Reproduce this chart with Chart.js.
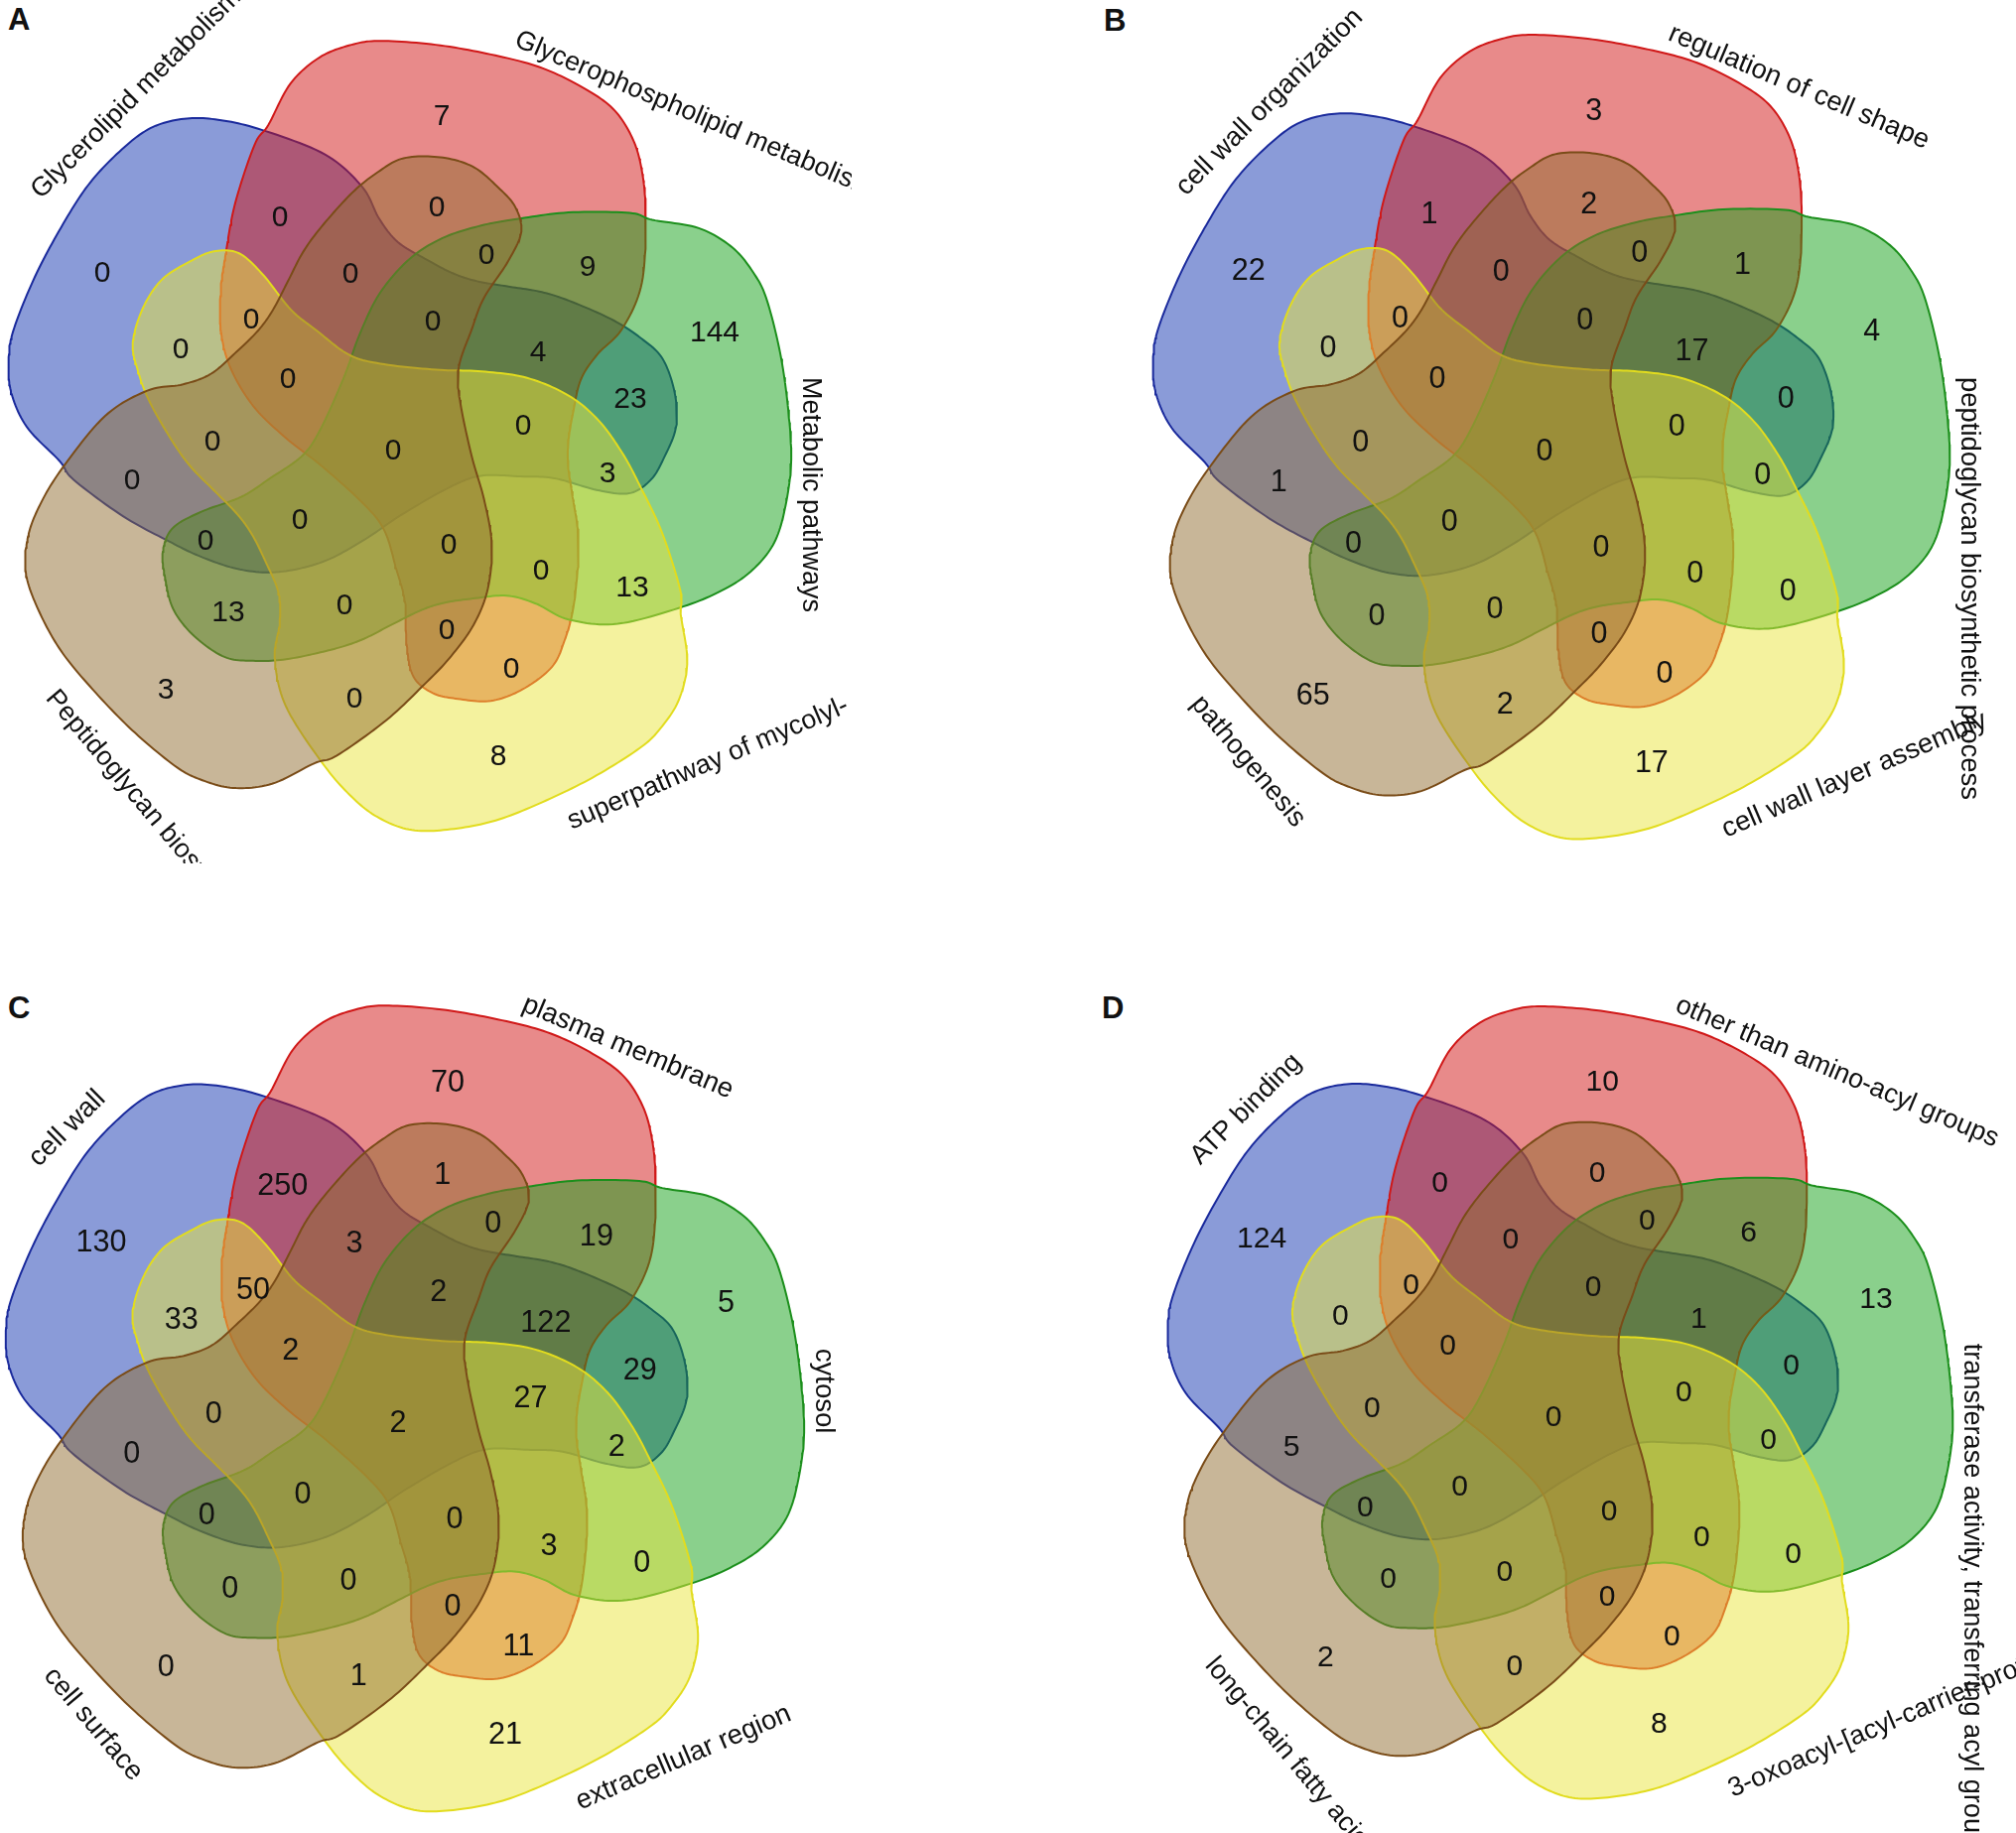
<!DOCTYPE html>
<html>
<head>
<meta charset="utf-8">
<script src="https://cdn.jsdelivr.net/npm/chart.js@4.4.1/dist/chart.umd.min.js"></script>
<style>
  html, body { margin: 0; padding: 0; background: #fff; }
  body { width: 2031px; height: 1847px; position: relative; overflow: hidden; font-family: "Liberation Sans", Arial, sans-serif; }
  canvas { position: absolute; }
  .tag { position: absolute; font-weight: bold; font-size: 31px; line-height: 1; color: #111; }
</style>
</head>
<body>
<div class="tag" style="left:8px;top:4px">A</div>
<div class="tag" style="left:1112px;top:5px">B</div>
<div class="tag" style="left:8px;top:1000px">C</div>
<div class="tag" style="left:1110px;top:1000px">D</div>
<canvas id="vennA"></canvas>
<canvas id="vennB"></canvas>
<canvas id="vennC"></canvas>
<canvas id="vennD"></canvas>
<script>
//data - regions: a = 1st set (blue) ... e = 5th set (brown)
const regions = ["a","b","c","d","e",
  "ab","bc","cd","de","ae",
  "be","ac","bd","ce","ad",
  "abe","abc","bcd","cde","ade",
  "bce","acd","bde","ace","abd",
  "abce","abcd","bcde","acde","abde",
  "abcde"];

const namesA = ["Glycerolipid metabolism", "Glycerophospholipid metabolism", "Metabolic pathways", "superpathway of mycolyl-", "Peptidoglycan biosynthesis"];
const countsA = [0, 7, 144, 8, 3,
  0, 9, 13, 0, 0,
  0, 23, 0, 13, 0,
  0, 4, 0, 0, 0,
  0, 3, 0, 0, 0,
  0, 0, 0, 0, 0,
  0];

const namesB = ["cell wall organization", "regulation of cell shape", "peptidoglycan biosynthetic process", "cell wall layer assembly", "pathogenesis"];
const countsB = [22, 3, 4, 17, 65,
  1, 1, 0, 2, 1,
  2, 0, 0, 0, 0,
  0, 17, 0, 0, 0,
  0, 0, 0, 0, 0,
  0, 0, 0, 0, 0,
  0];

const namesC = ["cell wall", "plasma membrane", "cytosol", "extracellular region", "cell surface"];
const countsC = [130, 70, 5, 21, 0,
  250, 19, 0, 1, 0,
  1, 29, 11, 0, 33,
  3, 122, 3, 0, 0,
  0, 2, 0, 0, 50,
  2, 27, 0, 0, 2,
  2];

const namesD = ["ATP binding", "other than amino-acyl groups", "transferase activity, transferring acyl groups", "3-oxoacyl-[acyl-carrier-protein] synthase activity", "long-chain fatty acid-CoA ligase activity"];
const countsD = [124, 10, 13, 8, 2,
  0, 6, 0, 0, 5,
  0, 0, 0, 0, 0,
  0, 1, 0, 0, 0,
  0, 0, 0, 0, 0,
  0, 0, 0, 0, 0,
  0];

//layout - one set outline (the top one), px from the diagram centre, y up
const outlineTop = [
  [-180,110],[-180,152],[-175,189],[-165,242],[-145,302],[-131,322],[-108,365],[-78,392],
  [-45,405],[-15,409],[42,405],[99,395],[149,382],[192,362],[225,339],[245,309],
  [255,275],[259,229],[255,159],[235,112],[209,85],[192,59],[184,25],[179,-5],
  [179,-31],[184,-65],[189,-98],[189,-131],[184,-178],[175,-211],[162,-238],[132,-261],
  [99,-273],[65,-271],[39,-265],[19,-248],[12,-215],[10,-170],[1,-136],[-11,-97],
  [-32,-70],[-75,-31],[-112,-2],[-146,31],[-170,71]
];
const setTurn = [72, 0, -72, -144, 144];
const fills = ["rgba(21,55,177,0.5)", "rgba(209,21,21,0.5)", "rgba(21,161,25,0.5)", "rgba(233,229,61,0.5)", "rgba(145,109,49,0.5)"];
const borders = ["#1a2a9c", "#d01818", "#1c8f1c", "#e2dc1e", "#7a4c18"];

// where each region's count sits
const labelAt = {
  a:[-295,167], b:[47,325], c:[322,107], d:[104,-320], e:[-231,-253],
  ab:[-116,223], bc:[194,173], cd:[239,-150], de:[-41,-262], ae:[-265,-42],
  be:[42,233], ac:[237,40], bd:[117,-232], ce:[-168,-175], ad:[-216,90],
  abe:[-45,166], abc:[144,87], bcd:[147,-133], cde:[-51,-168], ade:[-184,-3],
  bce:[92,185], acd:[214,-35], bde:[52,-193], ace:[-191,-103], abd:[-145,120],
  abce:[38,118], abcd:[129,13], bcde:[54,-107], acde:[-96,-82], abde:[-108,60],
  abcde:[-2,-12]
};
// set name anchor x, y, rotation (deg)
const nameAt = [[-362,244,-45], [122,401,23], [418,60,90], [175,-389,-23], [-347,-259,50]];

const panels = [
  {id:"A", names:namesA, counts:countsA, cx:398, cy:440, k:1, box:[0,0,858,870]},
  {id:"B", names:namesB, counts:countsB, cx:1558, cy:441, k:1.018, box:[1100,0,931,935]},
  {id:"C", names:namesC, counts:countsC, cx:403, cy:1420, k:1.02, box:[0,940,1000,907]},
  {id:"D", names:namesD, counts:countsD, cx:1567, cy:1414, k:1.003, box:[1100,940,931,907]}
];

function smoothRing(pts, steps) {
  let out = [];
  let n = pts.length;
  for (let i = 0; i < n; i++) {
    let p0 = pts[(i - 1 + n) % n], p1 = pts[i], p2 = pts[(i + 1) % n], p3 = pts[(i + 2) % n];
    for (let s = 0; s < steps; s++) {
      let t = s / steps, t2 = t * t, t3 = t2 * t;
      let f = (a, b, c, d) => 0.5 * (2 * b + (c - a) * t + (2 * a - 5 * b + 4 * c - d) * t2 + (3 * b - a - 3 * c + d) * t3);
      out.push([f(p0[0], p1[0], p2[0], p3[0]), f(p0[1], p1[1], p2[1], p3[1])]);
    }
  }
  out.push(out[0]);
  return out;
}

function turn(pts, deg) {
  let r = deg * Math.PI / 180, c = Math.cos(r), s = Math.sin(r);
  return pts.map(p => ({x: p[0] * c - p[1] * s, y: p[0] * s + p[1] * c}));
}

const shape = smoothRing(outlineTop.map(p => [p[0] * 0.975, p[1] * 0.975]), 12);

//counts and set names, placed through the scales
const vennText = {
  id: "vennText",
  afterDatasetsDraw(chart, args, opts) {
    let ctx = chart.ctx, x = chart.scales.x, y = chart.scales.y;
    let big = 30 * opts.k, small = 27 * opts.k;
    ctx.save();
    ctx.fillStyle = "#111";
    ctx.font = big + "px 'Liberation Sans', Arial, sans-serif";
    ctx.textAlign = "center";
    ctx.textBaseline = "alphabetic";
    regions.forEach((r, i) => {
      let p = labelAt[r];
      ctx.fillText(String(opts.counts[i]), x.getPixelForValue(p[0]), y.getPixelForValue(p[1]) + 0.36 * big);
    });
    ctx.font = small + "px 'Liberation Sans', Arial, sans-serif";
    ctx.textAlign = "left";
    ctx.textBaseline = "middle";
    opts.names.forEach((name, i) => {
      let a = nameAt[i];
      ctx.save();
      ctx.translate(x.getPixelForValue(a[0]), y.getPixelForValue(a[1]));
      ctx.rotate(a[2] * Math.PI / 180);
      ctx.fillText(name, 0, 0);
      ctx.restore();
    });
    ctx.restore();
  }
};

panels.forEach(p => {
  let cv = document.getElementById("venn" + p.id);
  let left = p.box[0], top = p.box[1], w = p.box[2], h = p.box[3];
  cv.width = w; cv.height = h;
  cv.style.left = left + "px"; cv.style.top = top + "px";
  cv.style.width = w + "px"; cv.style.height = h + "px";
  new Chart(cv, {
    type: "scatter",
    data: {
      datasets: setTurn.map((deg, i) => ({
        label: p.names[i],
        data: turn(shape, deg),
        showLine: true,
        fill: "shape",
        backgroundColor: fills[i],
        borderColor: borders[i],
        borderWidth: 2,
        pointRadius: 0,
        tension: 0,
        order: 5 - i
      }))
    },
    options: {
      responsive: false,
      animation: false,
      events: [],
      layout: { padding: 0 },
      scales: {
        x: { type: "linear", display: false, min: (left - p.cx) / p.k, max: (left + w - p.cx) / p.k },
        y: { type: "linear", display: false, min: (p.cy - top - h) / p.k, max: (p.cy - top) / p.k }
      },
      plugins: {
        legend: { display: false },
        tooltip: { enabled: false },
        vennText: { counts: p.counts, names: p.names, k: p.k }
      }
    },
    plugins: [vennText]
  });
});
</script>
</body>
</html>
